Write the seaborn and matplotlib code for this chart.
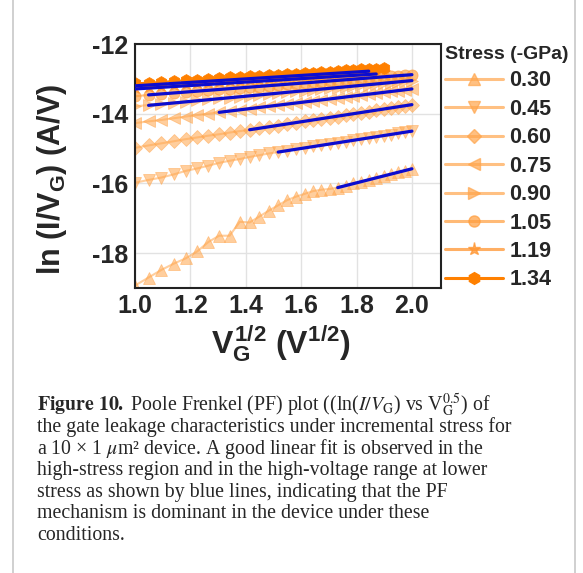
import numpy as np
import pandas as pd
import matplotlib
matplotlib.use("Agg")
import matplotlib.pyplot as plt
import seaborn as sns
from matplotlib.lines import Line2D
from matplotlib.ticker import MultipleLocator

# ---------------- data ----------------
V_G = [1.0, 1.1, 1.2, 1.3, 1.4, 1.5, 1.6, 1.7, 1.8, 1.9, 2.0, 2.1, 2.2, 2.3, 2.4, 2.5,
       2.6, 2.7, 2.8, 2.9, 3.0, 3.1, 3.2, 3.3, 3.4, 3.5, 3.6, 3.7, 3.8, 3.9, 4.0]

stress_labels = ["0.30", "0.45", "0.60", "0.75", "0.90", "1.05", "1.19", "1.34"]

y_030 = [-18.93, -18.70, -18.48, -18.30, -18.15, -17.95, -17.68, -17.50, -17.50, -17.10,
         -17.12, -16.95, -16.78, -16.63, -16.48, -16.38, -16.30, -16.22, -16.18, -16.16,
         -16.12, -16.06, -16.00, -15.95, -15.89, -15.84, -15.79, -15.74, -15.68, -15.63, -15.58]
y_045 = [-15.98, -15.90, -15.83, -15.74, -15.64, -15.57, -15.49, -15.41, -15.35, -15.30,
         -15.24, -15.19, -15.14, -15.10, -15.06, -15.02, -14.98, -14.94, -14.91, -14.87,
         -14.83, -14.80, -14.76, -14.73, -14.69, -14.66, -14.63, -14.60, -14.56, -14.53, -14.50]
y_060 = [-14.98, -14.91, -14.85, -14.79, -14.73, -14.68, -14.63, -14.59, -14.54, -14.50,
         -14.46, -14.42, -14.38, -14.34, -14.30, -14.26, -14.22, -14.18, -14.15, -14.11,
         -14.08, -14.04, -14.00, -13.97, -13.94, -13.90, -13.87, -13.84, -13.80, -13.77, -13.74]
y_075 = [-14.27, -14.22, -14.18, -14.13, -14.08, -14.04, -14.00, -13.96, -13.92, -13.89,
         -13.86, -13.82, -13.79, -13.76, -13.73, -13.70, -13.67, -13.64, -13.61, -13.58,
         -13.55, -13.52, -13.49, -13.47, -13.44, -13.41, -13.39, -13.36, -13.34, -13.31, -13.29]
y_090 = [-13.79, -13.75, -13.72, -13.68, -13.65, -13.62, -13.59, -13.56, -13.54, -13.51,
         -13.48, -13.46, -13.43, -13.41, -13.38, -13.36, -13.34, -13.32, -13.29, -13.27,
         -13.25, -13.23, -13.21, -13.19, -13.17, -13.15, -13.13, -13.11, -13.09, -13.07, -13.05]
y_105 = [-13.50, -13.46, -13.43, -13.40, -13.38, -13.35, -13.33, -13.30, -13.28, -13.26,
         -13.24, -13.22, -13.20, -13.18, -13.16, -13.14, -13.12, -13.10, -13.09, -13.07,
         -13.05, -13.03, -13.02, -13.00, -12.98, -12.97, -12.95, -12.93, -12.92, -12.90, -12.88]
y_119 = [-13.25, -13.22, -13.20, -13.17, -13.15, -13.13, -13.11, -13.09, -13.07, -13.05,
         -13.03, -13.02, -13.00, -12.98, -12.97, -12.95, -12.94, -12.92, -12.91, -12.89,
         -12.88, -12.86, -12.85, -12.84, -12.83, -12.81, -12.80]
y_134 = [-13.13, -13.11, -13.09, -13.06, -13.04, -13.02, -13.00, -12.98, -12.96, -12.95,
         -12.93, -12.91, -12.90, -12.88, -12.86, -12.85, -12.83, -12.82, -12.80, -12.79,
         -12.77, -12.76, -12.75, -12.73, -12.72, -12.71, -12.70]

# linear PF fits (blue lines): start / end points
fit_x0 = [1.732, 1.517, 1.414, 1.304, 1.049, 1.049, 1.000, 1.000]
fit_x1 = [2.000, 2.000, 2.000, 2.000, 2.000, 2.000, 1.871, 1.844]
fit_y0 = [-16.12, -15.10, -14.46, -13.96, -13.76, -13.46, -13.29, -13.20]
fit_y1 = [-15.58, -14.50, -13.74, -13.29, -13.05, -12.88, -12.86, -12.78]

x_ticks = [1.0, 1.2, 1.4, 1.6, 1.8, 2.0]
x_ticklabels = ["1.0", "1.2", "1.4", "1.6", "1.8", "2.0"]
y_ticks = [-12, -14, -16, -18]
y_ticklabels = ["-12", "-14", "-16", "-18"]

series = [y_030, y_045, y_060, y_075, y_090, y_105, y_119, y_134]

# ---------------- styles ----------------
markers = ["^", "v", "D", "<", ">", "o", "*", "h"]
colors = ["#FFA64D", "#FFA64D", "#FFA64D", "#FFA64D", "#FFA64D", "#FF9D3C", "#FF9530", "#FF8000"]
alphas = [0.55, 0.55, 0.55, 0.55, 0.55, 0.65, 0.75, 1.0]
msizes = [8.5, 8.5, 7, 8.5, 8.5, 8, 9.5, 8.5]

sns.set_style("white")
plt.rcParams["font.family"] = ["Liberation Sans", "DejaVu Sans"]
plt.rcParams["mathtext.fontset"] = "custom"
plt.rcParams["mathtext.rm"] = "Liberation Sans:bold"
plt.rcParams["mathtext.it"] = "Liberation Sans:bold"
plt.rcParams["mathtext.bf"] = "Liberation Sans:bold"

fig = plt.figure(figsize=(5.83, 5.73), dpi=100)
ax = fig.add_axes([135 / 583, 1 - 288 / 573, 306 / 583, 244 / 573])

rows = []
for lab, ys in zip(stress_labels, series):
    for v, y in zip(V_G, ys):
        rows.append({"sqrtV": np.sqrt(v), "lnIV": y, "Stress": lab})
df = pd.DataFrame(rows)

for lab, m, c, a, ms in zip(stress_labels, markers, colors, alphas, msizes):
    sub = df[df["Stress"] == lab]
    sns.lineplot(data=sub, x="sqrtV", y="lnIV", ax=ax, color=c, alpha=a,
                 marker=m, markersize=ms, markeredgewidth=0.6, markeredgecolor=c,
                 linewidth=1.5, legend=False, estimator=None, sort=False, zorder=2)

fit_df = pd.DataFrame({"x": fit_x0 + fit_x1, "y": fit_y0 + fit_y1,
                       "fit": stress_labels + stress_labels})
for lab in stress_labels:
    sub = fit_df[fit_df["fit"] == lab]
    sns.lineplot(data=sub, x="x", y="y", ax=ax, color="#0C0CCF", linewidth=2.3,
                 legend=False, estimator=None, sort=False, zorder=4)

ax.set_xlim(1.0, 2.105)
ax.set_ylim(-19, -12)
ax.xaxis.set_minor_locator(MultipleLocator(0.1))
ax.yaxis.set_minor_locator(MultipleLocator(1))
ax.set_xticks(x_ticks)
ax.set_xticklabels(x_ticklabels, fontweight="bold")
ax.set_yticks(y_ticks)
ax.set_yticklabels(y_ticklabels, fontweight="bold")
ax.grid(True, which="major", color="#E2E2E2", linewidth=1.0)
ax.set_axisbelow(True)
ax.tick_params(which="major", direction="in", length=4, width=1.3, labelsize=18,
               top=False, right=False)
ax.tick_params(axis="x", which="major", pad=4)
ax.tick_params(axis="y", which="major", pad=5)
ax.tick_params(which="minor", direction="in", length=3, width=1.1, top=False, right=False)
for sp in ax.spines.values():
    sp.set_color("#222222")
    sp.set_linewidth(1.5)

ax.set_xlabel(r"$V_G^{1/2}$ (V$^{1/2}$)", fontsize=23, fontweight="bold")
ax.xaxis.label.set_va("center")
ax.xaxis.set_label_coords((281 - 135) / 306, (288 - 344) / 244)
ax.set_ylabel(r"ln (I/V$_G$) (A/V)", fontsize=22, fontweight="bold")
ax.yaxis.label.set_va("center")
ax.yaxis.set_label_coords((52 - 135) / 306, (288 - 179) / 244)

handles = [Line2D([], [], color=c, alpha=max(a, 0.7), marker=m, markersize=ms, lw=2.2,
                  markeredgecolor=c)
           for m, c, a, ms in zip(markers, colors, alphas, msizes)]
leg = ax.legend(handles, stress_labels, title="Stress (-GPa)", loc="upper left",
                bbox_to_anchor=(445 / 583, 1 - 46 / 573), bbox_transform=fig.transFigure,
                frameon=False, prop={"weight": "bold", "size": 15.5},
                title_fontproperties={"weight": "bold", "size": 14},
                handlelength=2.7, handletextpad=0.28, labelspacing=0.345, borderpad=0,
                borderaxespad=0, alignment="left")

# frame lines of the figure panel
fig.add_artist(Line2D([13 / 583, 13 / 583], [0, 1], color="#C8C8C8", lw=1.2,
                      transform=fig.transFigure))
fig.add_artist(Line2D([575 / 583, 575 / 583], [0, 1], color="#C8C8C8", lw=1.2,
                      transform=fig.transFigure))

# caption
caption_lines = [
    r"$\mathbf{Figure\ 10.}$ Poole Frenkel (PF) plot ((ln($I/V_{\mathrm{G}}$) vs V$_{\mathrm{G}}^{0.5}$) of",
    "the gate leakage characteristics under incremental stress for",
    r"a 10 × 1 $\mu$m² device. A good linear fit is observed in the",
    "high-stress region and in the high-voltage range at lower",
    "stress as shown by blue lines, indicating that the PF",
    "mechanism is dominant in the device under these",
    "conditions.",
]
cap_y = [405, 427, 449, 470, 492, 513, 535]
for txt, yy in zip(caption_lines, cap_y):
    fig.text(37 / 583, 1 - yy / 573, txt, ha="left", va="center",
             family=["Liberation Serif", "DejaVu Serif"], fontweight="normal",
             fontsize=14.3, math_fontfamily="stix")

fig.savefig("out.png", dpi=100)
